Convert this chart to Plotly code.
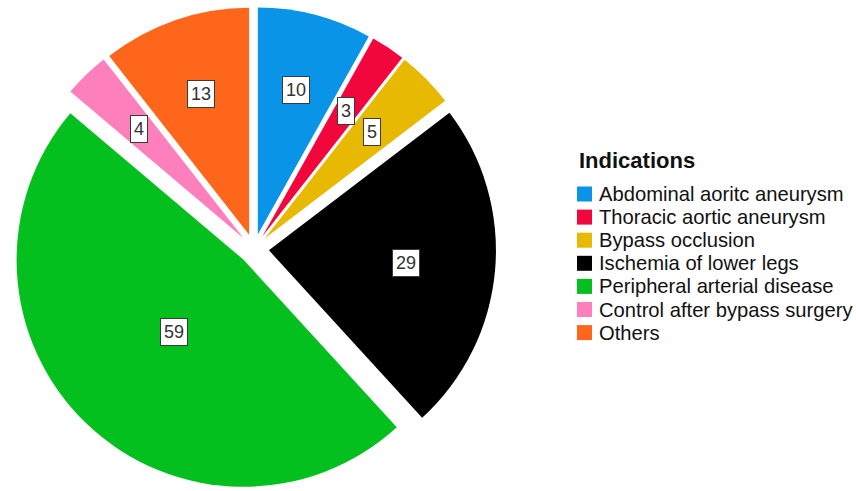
import math
import plotly.graph_objects as go

# Indications for the examinations (number of patients)
categories = [
    "Abdominal aoritc aneurysm",
    "Thoracic aortic aneurysm",
    "Bypass occlusion",
    "Ischemia of lower legs",
    "Peripheral arterial disease",
    "Control after bypass surgery",
    "Others",
]
counts = [10, 3, 5, 29, 59, 4, 13]
colors = ["#0a94e8", "#f2073d", "#e8b903", "#000000", "#03c01e", "#fd80bd", "#fe661b"]
legend_title = "Indications"

# Figure and pie geometry (pixels)
W, H = 856, 491
PIE_CX = 254.0          # pie centre, x
PIE_R = 227.0           # pie radius
PULL_PX = 15.0          # every slice is exploded by this distance
pull = PULL_PX / PIE_R
half_box = PIE_R + PULL_PX
y0 = 0.0
y1 = 2 * half_box / H
x0 = (PIE_CX - half_box) / W
x1 = (PIE_CX + half_box) / W
PIE_CY = H * (1 - y0) - half_box

FONT = "Liberation Sans, Arial, sans-serif"

fig = go.Figure(
    go.Pie(
        labels=categories,
        values=counts,
        marker=dict(colors=colors, line=dict(width=0)),
        pull=[pull] * len(counts),
        sort=False,
        direction="clockwise",
        rotation=0,
        textinfo="none",
        hoverinfo="label+value",
        showlegend=False,
        domain=dict(x=[x0, x1], y=[y0, y1]),
    )
)

# Boxed value labels placed at each slice's centroid
total = sum(counts)
annotations = []
start = 0.0
for value in counts:
    span = 2 * math.pi * value / total
    mid = start + span / 2
    half = span / 2
    centroid = (2.0 / 3.0) * PIE_R * math.sin(half) / half
    dist = PULL_PX + centroid
    px = PIE_CX + dist * math.sin(mid)
    py = PIE_CY - dist * math.cos(mid)
    annotations.append(
        dict(
            x=px / W, y=1 - py / H, xref="paper", yref="paper",
            text=str(value), showarrow=False,
            xanchor="center", yanchor="middle",
            font=dict(family=FONT, size=18, color="#333333"),
            bgcolor="white", bordercolor="#3a3a3a", borderwidth=1, borderpad=3,
        )
    )
    start += span

# Legend block: title, colour swatches and category names
LEG_X = 577
SW = 15
ROW0 = 194.0
ROW_STEP = 23.1
shapes = []
annotations.append(
    dict(
        x=LEG_X / W, y=1 - 160.5 / H, xref="paper", yref="paper",
        text="<b>%s</b>" % legend_title, showarrow=False,
        xanchor="left", yanchor="middle",
        font=dict(family=FONT, size=22, color="#111111"),
    )
)
for i, (name, col) in enumerate(zip(categories, colors)):
    yc = ROW0 + i * ROW_STEP
    shapes.append(
        dict(
            type="rect", xref="paper", yref="paper",
            x0=LEG_X / W, x1=(LEG_X + SW) / W,
            y0=1 - (yc + SW / 2) / H, y1=1 - (yc - SW / 2) / H,
            fillcolor=col, line=dict(width=0),
        )
    )
    annotations.append(
        dict(
            x=(LEG_X + SW + 5) / W, y=1 - yc / H, xref="paper", yref="paper",
            text=name, showarrow=False,
            xanchor="left", yanchor="middle",
            font=dict(family=FONT, size=20.2, color="#111111"),
        )
    )

fig.update_layout(
    width=W,
    height=H,
    margin=dict(l=0, r=0, t=0, b=0),
    paper_bgcolor="white",
    plot_bgcolor="white",
    annotations=annotations,
    shapes=shapes,
)

fig.write_html("out.html")
